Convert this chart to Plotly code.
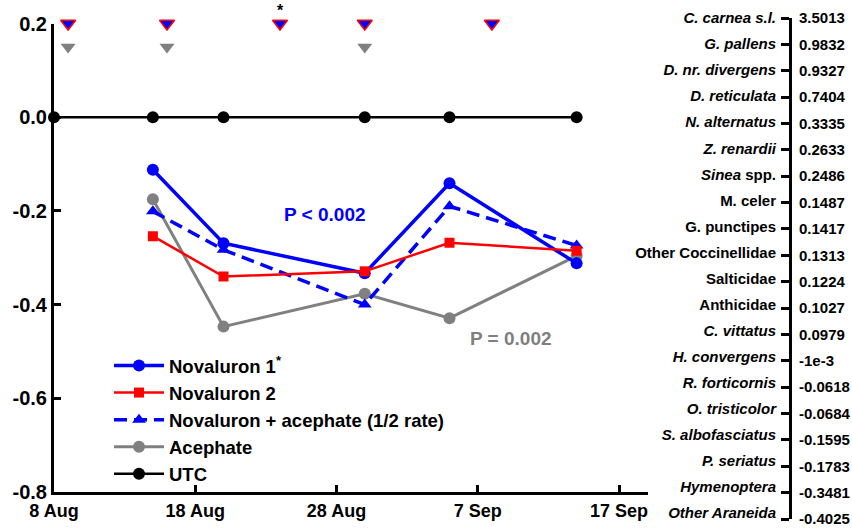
import plotly.graph_objects as go

# ---------------- data ----------------
utc_dates = ["2007-08-08", "2007-08-15", "2007-08-20", "2007-08-30", "2007-09-05", "2007-09-14"]
utc_vals = [0, 0, 0, 0, 0, 0]

trt_dates = ["2007-08-15", "2007-08-20", "2007-08-30", "2007-09-05", "2007-09-14"]
novaluron1 = [-0.112, -0.269, -0.333, -0.141, -0.312]
novaluron2 = [-0.254, -0.340, -0.329, -0.268, -0.285]
nov_aceph = [-0.201, -0.283, -0.400, -0.190, -0.274]
acephate = [-0.175, -0.447, -0.377, -0.429, -0.296]

nov_spray_dates = ["2007-08-09", "2007-08-16", "2007-08-24", "2007-08-30", "2007-09-08"]
nov_spray_level = [0.2, 0.2, 0.2, 0.2, 0.2]
aceph_spray_dates = ["2007-08-09", "2007-08-16", "2007-08-30"]
aceph_spray_level = [0.15, 0.15, 0.15]

taxa = ["<i>C. carnea s.l.</i>", "<i>G. pallens</i>", "<i>D. nr. divergens</i>", "<i>D. reticulata</i>",
        "<i>N. alternatus</i>", "<i>Z. renardii</i>", "<i>Sinea</i> spp.", "M. celer", "G. punctipes",
        "Other Coccinellidae", "Salticidae", "Anthicidae", "<i>C. vittatus</i>", "<i>H. convergens</i>",
        "<i>R. forticornis</i>", "<i>O. tristicolor</i>", "<i>S. albofasciatus</i>", "<i>P. seriatus</i>",
        "<i>Hymenoptera</i>", "<i>Other Araneida</i>"]
taxa_scores = ["3.5013", "0.9832", "0.9327", "0.7404", "0.3335", "0.2633", "0.2486", "0.1487", "0.1417",
               "0.1313", "0.1224", "0.1027", "0.0979", "-1e-3", "-0.0618", "-0.0684", "-0.1595",
               "-0.1783", "-0.3481", "-0.4025"]

x_ticks = ["2007-08-08", "2007-08-18", "2007-08-28", "2007-09-07", "2007-09-17"]
x_ticktext = ["8 Aug", "18 Aug", "28 Aug", "7 Sep", "17 Sep"]
y_ticks = [0.2, 0.0, -0.2, -0.4, -0.6, -0.8]
y_ticktext = ["0.2", "0.0", "-0.2", "-0.4", "-0.6", "-0.8"]

BLUE = "#0000ff"
RED = "#ff0000"
GRAY = "#808080"
FONT = "Liberation Sans, Arial, sans-serif"

W, H = 852, 529

fig = go.Figure()

fig.add_trace(go.Scatter(x=utc_dates, y=utc_vals, name="UTC", mode="lines+markers",
                         line=dict(color="black", width=2.5),
                         marker=dict(symbol="circle", size=12, color="black"),
                         legendrank=5, legendgroup="e", cliponaxis=False))
fig.add_trace(go.Scatter(x=trt_dates, y=acephate, name="Acephate", mode="lines+markers",
                         line=dict(color=GRAY, width=3),
                         marker=dict(symbol="circle", size=12, color=GRAY),
                         legendrank=4, legendgroup="d"))
fig.add_trace(go.Scatter(x=trt_dates, y=nov_aceph, name="Novaluron + acephate (1/2 rate)",
                         mode="lines+markers",
                         line=dict(color=BLUE, width=3.5, dash="13px,7px"),
                         marker=dict(symbol="triangle-up", size=12, color=BLUE),
                         legendrank=3, legendgroup="c"))
fig.add_trace(go.Scatter(x=trt_dates, y=novaluron1, name="Novaluron 1<sup>*</sup>", mode="lines+markers",
                         line=dict(color=BLUE, width=3.5),
                         marker=dict(symbol="circle", size=12, color=BLUE),
                         legendrank=1, legendgroup="a"))
fig.add_trace(go.Scatter(x=trt_dates, y=novaluron2, name="Novaluron 2", mode="lines+markers",
                         line=dict(color=RED, width=2.5),
                         marker=dict(symbol="square", size=10, color=RED),
                         legendrank=2, legendgroup="b"))

# application markers
fig.add_trace(go.Scatter(x=nov_spray_dates, y=nov_spray_level, mode="markers", showlegend=False,
                         marker=dict(symbol="triangle-down", size=13, color=BLUE,
                                     line=dict(color=RED, width=1.5)),
                         cliponaxis=False, hoverinfo="skip"))
fig.add_trace(go.Scatter(x=aceph_spray_dates, y=aceph_spray_level, mode="markers", showlegend=False,
                         marker=dict(symbol="triangle-down", size=13, color=GRAY),
                         cliponaxis=False, hoverinfo="skip"))

# invisible traces to carry the right-hand taxa axes
idx = list(range(len(taxa)))
for ya in ["y2", "y3", "y4"]:
    fig.add_trace(go.Scatter(x=[0] * len(idx), y=idx, xaxis="x2", yaxis=ya, mode="markers",
                             marker=dict(opacity=0), showlegend=False, hoverinfo="skip"))

x0, x1 = 54, 648
y_top, y_bot = 23.5, 492
r_top, r_bot, n_bot = 18, 519, 513

fig.update_layout(
    width=W, height=H,
    margin=dict(l=0, r=0, t=0, b=0, autoexpand=False),
    paper_bgcolor="white", plot_bgcolor="white",
    font=dict(family=FONT, color="black", size=18, weight="bold"),
    xaxis=dict(
        type="date", domain=[x0 / W, x1 / W],
        range=["2007-08-08", "2007-09-19 01:16"],
        tickvals=x_ticks, ticktext=x_ticktext,
        ticks="inside", ticklen=7, tickwidth=2.5, tickcolor="black",
        showline=True, linecolor="black", linewidth=3,
        showgrid=False, zeroline=False, automargin=False,
        tickfont=dict(size=18, family=FONT, weight="bold"),
        anchor="y",
    ),
    yaxis=dict(
        domain=[(H - y_bot) / H, (H - y_top) / H],
        range=[-0.8, 0.2],
        tickvals=y_ticks, ticktext=y_ticktext,
        ticks="inside", ticklen=7, tickwidth=2.5, tickcolor="black",
        showline=True, linecolor="black", linewidth=3,
        showgrid=False, zeroline=False, automargin=False,
        tickfont=dict(size=20, family=FONT, weight="bold"),
        anchor="x",
    ),
    xaxis2=dict(domain=[792 / W, 793 / W], visible=False, anchor="y2", range=[-1, 1],
                automargin=False),
    # axis line + ticks
    yaxis2=dict(
        domain=[(H - r_bot) / H, (H - r_top) / H],
        range=[19, 0], anchor="x2", side="left",
        tickvals=idx, showticklabels=False,
        ticks="outside", ticklen=8, tickwidth=2.5, tickcolor="black",
        showline=True, linecolor="black", linewidth=3,
        showgrid=False, zeroline=False, automargin=False,
    ),
    # taxa names
    yaxis3=dict(
        domain=[(H - n_bot) / H, (H - r_top) / H],
        range=[19, 0], anchor="x2", side="left",
        tickvals=idx, ticktext=taxa,
        ticks="outside", ticklen=12, tickcolor="rgba(0,0,0,0)",
        showline=False, showgrid=False, zeroline=False, automargin=False,
        tickfont=dict(size=15, family=FONT, weight="bold"),
    ),
    # scores
    yaxis4=dict(
        domain=[(H - r_bot) / H, (H - r_top) / H],
        range=[19, 0], anchor="x2", side="right",
        tickvals=idx, ticktext=taxa_scores,
        ticks="outside", ticklen=2, tickcolor="rgba(0,0,0,0)",
        showline=False, showgrid=False, zeroline=False, automargin=False,
        tickfont=dict(size=15, family=FONT, weight="bold"),
    ),
    legend=dict(
        x=109 / W, y=(H - 347) / H, xanchor="left", yanchor="top",
        bgcolor="rgba(0,0,0,0)", itemwidth=50, tracegroupgap=1,
        font=dict(size=18.5, family=FONT, weight="bold"),
        traceorder="normal",
    ),
    showlegend=True,
)

fig.add_annotation(x="2007-08-24", y=0.2, yshift=13, text="*", showarrow=False,
                   font=dict(size=16, family=FONT, weight="bold", color="black"))
fig.add_annotation(x="2007-08-27 03:36", y=-0.208, text="P < 0.002", showarrow=False,
                   font=dict(size=19, family=FONT, weight="bold", color=BLUE))
fig.add_annotation(x="2007-09-09 08:24", y=-0.473, text="P = 0.002", showarrow=False,
                   font=dict(size=19, family=FONT, weight="bold", color="#7f7f7f"))

fig.write_html("out.html")
